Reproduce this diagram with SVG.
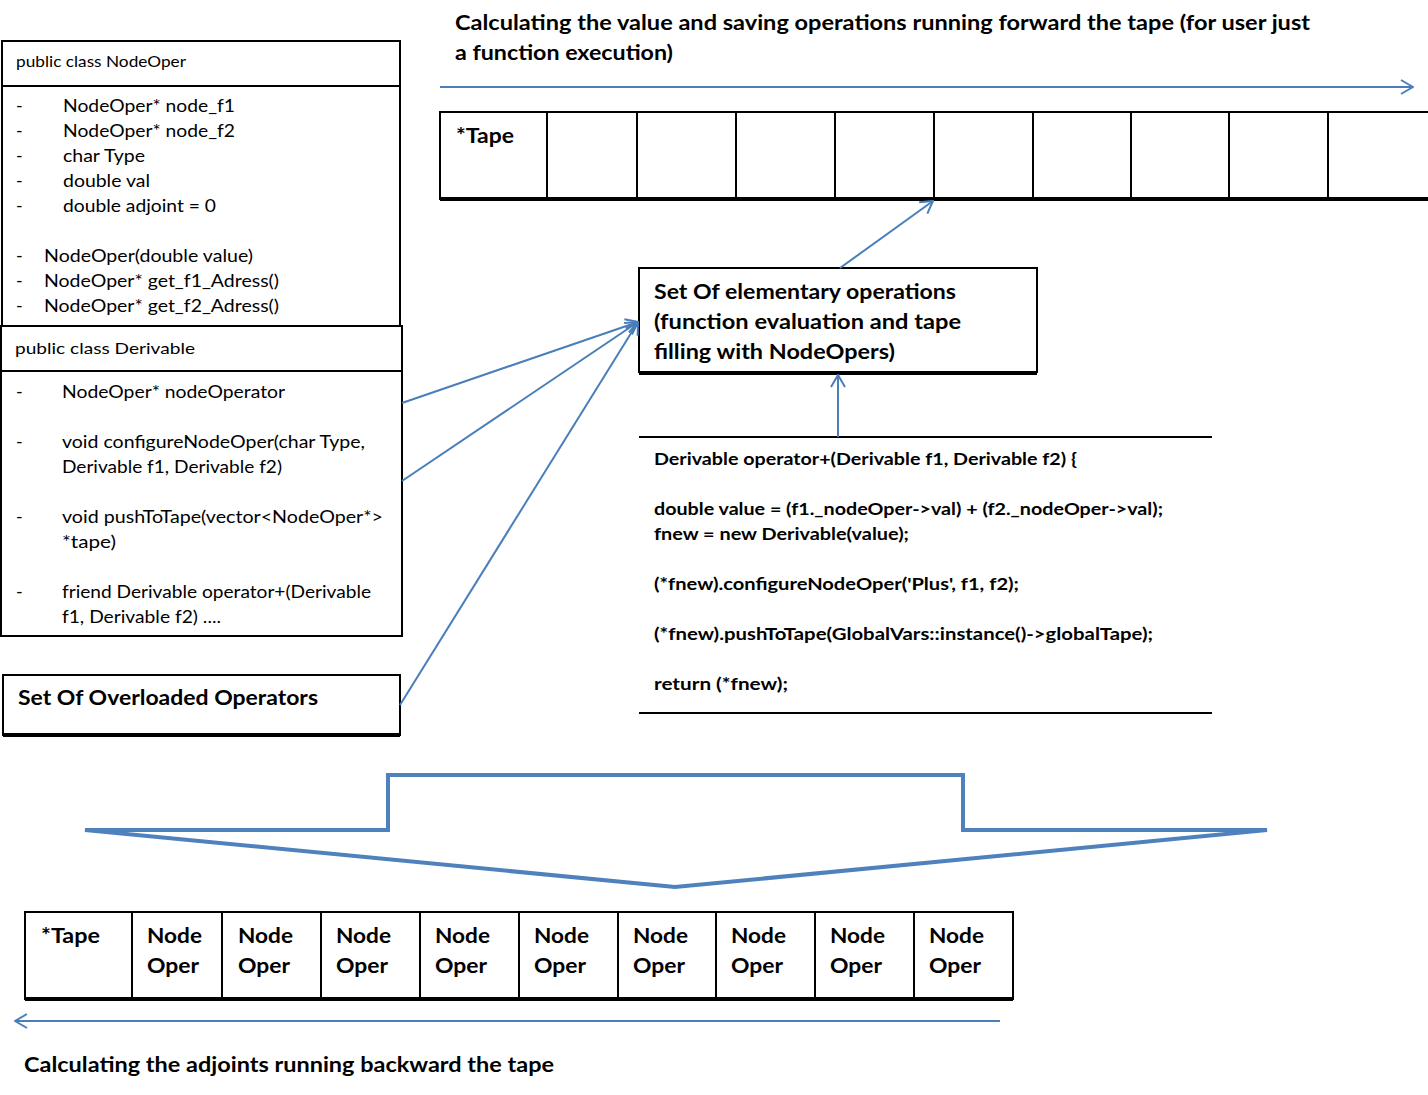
<svg xmlns="http://www.w3.org/2000/svg" width="1428" height="1095" viewBox="0 0 1428 1095">
<style>
  text { font-family: "Lato", "Open Sans", "Liberation Sans", sans-serif; fill: #000; }
  .b { font-weight: bold; }
  .hdr { font-size: 16px; }
  .body { font-size: 18px; }
  .big { font-size: 21px; font-weight: bold; }
  .code { font-size: 17.5px; font-weight: bold; }
  .box { fill: #fff; stroke: #000; stroke-width: 2; }
  .thick { stroke: #000; stroke-width: 4; }
  .thin { stroke: #000; stroke-width: 2; }
  .conn { stroke: #4A7EBB; stroke-width: 2; fill: none; }
  .big-arrow { stroke: #4F81BD; stroke-width: 4; fill: none; stroke-linejoin: miter; }
</style>
<defs>
  <marker id="open" viewBox="0 0 14 16" refX="13" refY="8" markerWidth="14" markerHeight="16" markerUnits="userSpaceOnUse" orient="auto">
    <path d="M1,1 L13,8 L1,15" fill="none" stroke="#4A7EBB" stroke-width="2"/>
  </marker>
</defs>
<rect width="1428" height="1095" fill="#fff"/>

<g id="title-forward">
  <text class="big" x="455" y="30" textLength="855" lengthAdjust="spacingAndGlyphs">Calculating  the value and saving operations running  forward the tape (for user just</text>
  <text class="big" x="455" y="60" textLength="218" lengthAdjust="spacingAndGlyphs">a function execution)</text>
</g>

<g id="tape-top">
  <rect x="440" y="112" width="990" height="87" fill="#fff" stroke="#000" stroke-width="2"/>
  <line x1="440" y1="199" x2="1428" y2="199" class="thick"/>
  <g class="thin">
    <line x1="547" y1="112" x2="547" y2="199"/>
    <line x1="637" y1="112" x2="637" y2="199"/>
    <line x1="736" y1="112" x2="736" y2="199"/>
    <line x1="835" y1="112" x2="835" y2="199"/>
    <line x1="934" y1="112" x2="934" y2="199"/>
    <line x1="1033" y1="112" x2="1033" y2="199"/>
    <line x1="1131" y1="112" x2="1131" y2="199"/>
    <line x1="1229" y1="112" x2="1229" y2="199"/>
    <line x1="1328" y1="112" x2="1328" y2="199"/>
  </g>
  <text class="big" x="456" y="143" textLength="58" lengthAdjust="spacingAndGlyphs">*Tape</text>
</g>

<g id="class-nodeoper">
  <rect x="2" y="41" width="398" height="285" class="box"/>
  <line x1="2" y1="86" x2="400" y2="86" class="thin"/>
  <text class="hdr" x="16" y="67" textLength="170" lengthAdjust="spacingAndGlyphs">public class NodeOper</text>
  <g class="body">
    <text class="body" x="16" y="112">-</text>
    <text class="body" x="63" y="112" textLength="172" lengthAdjust="spacingAndGlyphs">NodeOper* node_f1</text>
    <text class="body" x="16" y="137">-</text>
    <text class="body" x="63" y="137" textLength="172" lengthAdjust="spacingAndGlyphs">NodeOper* node_f2</text>
    <text class="body" x="16" y="162">-</text>
    <text class="body" x="63" y="162" textLength="82" lengthAdjust="spacingAndGlyphs">char Type</text>
    <text class="body" x="16" y="187">-</text>
    <text class="body" x="63" y="187" textLength="87" lengthAdjust="spacingAndGlyphs">double val</text>
    <text class="body" x="16" y="212">-</text>
    <text class="body" x="63" y="212" textLength="153" lengthAdjust="spacingAndGlyphs">double adjoint = 0</text>
    <text class="body" x="16" y="262">-</text>
    <text class="body" x="44" y="262" textLength="209" lengthAdjust="spacingAndGlyphs">NodeOper(double value)</text>
    <text class="body" x="16" y="287">-</text>
    <text class="body" x="44" y="287" textLength="235" lengthAdjust="spacingAndGlyphs">NodeOper* get_f1_Adress()</text>
    <text class="body" x="16" y="312">-</text>
    <text class="body" x="44" y="312" textLength="235" lengthAdjust="spacingAndGlyphs">NodeOper* get_f2_Adress()</text>
  </g>
</g>

<g id="class-derivable">
  <rect x="1" y="326" width="401" height="310" class="box"/>
  <line x1="1" y1="371" x2="402" y2="371" class="thin"/>
  <text class="hdr" x="15" y="354" textLength="180" lengthAdjust="spacingAndGlyphs">public class Derivable</text>
  <text class="body" x="16" y="398">-</text>
  <text class="body" x="62" y="398" textLength="223" lengthAdjust="spacingAndGlyphs">NodeOper* nodeOperator</text>
  <text class="body" x="16" y="448">-</text>
  <text class="body" x="62" y="448" textLength="303" lengthAdjust="spacingAndGlyphs">void configureNodeOper(char Type,</text>
  <text class="body" x="62" y="473" textLength="220" lengthAdjust="spacingAndGlyphs">Derivable f1, Derivable f2)</text>
  <text class="body" x="16" y="523">-</text>
  <text class="body" x="62" y="523" textLength="321" lengthAdjust="spacingAndGlyphs">void pushToTape(vector&lt;NodeOper*&gt;</text>
  <text class="body" x="62" y="548" textLength="54" lengthAdjust="spacingAndGlyphs">*tape)</text>
  <text class="body" x="16" y="598">-</text>
  <text class="body" x="62" y="598" textLength="309" lengthAdjust="spacingAndGlyphs">friend Derivable operator+(Derivable</text>
  <text class="body" x="62" y="623" textLength="159" lengthAdjust="spacingAndGlyphs">f1, Derivable f2) ....</text>
</g>

<g id="overloaded-operators">
  <rect x="3" y="675" width="397" height="60" class="box"/>
  <line x1="3" y1="735" x2="400" y2="735" class="thick"/>
  <text class="big" x="18" y="705" textLength="300" lengthAdjust="spacingAndGlyphs">Set Of Overloaded Operators</text>
</g>

<g id="elementary-operations">
  <rect x="639" y="268" width="398" height="104" class="box"/>
  <line x1="639" y1="373" x2="1037" y2="373" class="thick"/>
  <text class="big" x="654" y="299" textLength="302" lengthAdjust="spacingAndGlyphs">Set Of elementary operations</text>
  <text class="big" x="654" y="329" textLength="307" lengthAdjust="spacingAndGlyphs">(function  evaluation and tape</text>
  <text class="big" x="654" y="359" textLength="241" lengthAdjust="spacingAndGlyphs">filling with NodeOpers)</text>
</g>

<g id="code-block">
  <line x1="639" y1="437" x2="1212" y2="437" class="thin"/>
  <line x1="639" y1="713" x2="1212" y2="713" class="thin"/>
  <text class="code" x="654" y="465" textLength="423" lengthAdjust="spacingAndGlyphs">Derivable operator+(Derivable f1,  Derivable f2) {</text>
  <text class="code" x="654" y="515" textLength="509" lengthAdjust="spacingAndGlyphs">double value = (f1._nodeOper-&gt;val) + (f2._nodeOper-&gt;val);</text>
  <text class="code" x="654" y="540" textLength="255" lengthAdjust="spacingAndGlyphs">fnew = new Derivable(value);</text>
  <text class="code" x="654" y="590" textLength="365" lengthAdjust="spacingAndGlyphs">(*fnew).configureNodeOper('Plus', f1, f2);</text>
  <text class="code" x="654" y="640" textLength="499" lengthAdjust="spacingAndGlyphs">(*fnew).pushToTape(GlobalVars::instance()-&gt;globalTape);</text>
  <text class="code" x="654" y="690" textLength="134" lengthAdjust="spacingAndGlyphs">return (*fnew);</text>
</g>

<g id="big-arrow">
  <path class="big-arrow" d="M85,830 L388,830 L388,775 L963,775 L963,830 L1267,830 L675,887 Z"/>
</g>

<g id="tape-bottom">
  <rect x="25" y="912" width="988" height="87" fill="#fff" stroke="#000" stroke-width="2"/>
  <line x1="25" y1="999" x2="1013" y2="999" class="thick"/>
  <g class="thin">
    <line x1="132" y1="912" x2="132" y2="999"/>
    <line x1="222" y1="912" x2="222" y2="999"/>
    <line x1="321" y1="912" x2="321" y2="999"/>
    <line x1="420" y1="912" x2="420" y2="999"/>
    <line x1="519" y1="912" x2="519" y2="999"/>
    <line x1="618" y1="912" x2="618" y2="999"/>
    <line x1="716" y1="912" x2="716" y2="999"/>
    <line x1="815" y1="912" x2="815" y2="999"/>
    <line x1="914" y1="912" x2="914" y2="999"/>
  </g>
  <text class="big" x="41" y="943" textLength="59" lengthAdjust="spacingAndGlyphs">*Tape</text>
  <g class="big">
    <text class="big" x="147" y="943" textLength="55" lengthAdjust="spacingAndGlyphs">Node</text>
    <text class="big" x="147" y="973" textLength="52" lengthAdjust="spacingAndGlyphs">Oper</text>
    <text class="big" x="238" y="943" textLength="55" lengthAdjust="spacingAndGlyphs">Node</text>
    <text class="big" x="238" y="973" textLength="52" lengthAdjust="spacingAndGlyphs">Oper</text>
    <text class="big" x="336" y="943" textLength="55" lengthAdjust="spacingAndGlyphs">Node</text>
    <text class="big" x="336" y="973" textLength="52" lengthAdjust="spacingAndGlyphs">Oper</text>
    <text class="big" x="435" y="943" textLength="55" lengthAdjust="spacingAndGlyphs">Node</text>
    <text class="big" x="435" y="973" textLength="52" lengthAdjust="spacingAndGlyphs">Oper</text>
    <text class="big" x="534" y="943" textLength="55" lengthAdjust="spacingAndGlyphs">Node</text>
    <text class="big" x="534" y="973" textLength="52" lengthAdjust="spacingAndGlyphs">Oper</text>
    <text class="big" x="633" y="943" textLength="55" lengthAdjust="spacingAndGlyphs">Node</text>
    <text class="big" x="633" y="973" textLength="52" lengthAdjust="spacingAndGlyphs">Oper</text>
    <text class="big" x="731" y="943" textLength="55" lengthAdjust="spacingAndGlyphs">Node</text>
    <text class="big" x="731" y="973" textLength="52" lengthAdjust="spacingAndGlyphs">Oper</text>
    <text class="big" x="830" y="943" textLength="55" lengthAdjust="spacingAndGlyphs">Node</text>
    <text class="big" x="830" y="973" textLength="52" lengthAdjust="spacingAndGlyphs">Oper</text>
    <text class="big" x="929" y="943" textLength="55" lengthAdjust="spacingAndGlyphs">Node</text>
    <text class="big" x="929" y="973" textLength="52" lengthAdjust="spacingAndGlyphs">Oper</text>
  </g>
</g>

<g id="title-backward">
  <text class="big" x="24" y="1072" textLength="530" lengthAdjust="spacingAndGlyphs">Calculating  the adjoints running  backward the tape</text>
</g>

<g id="connectors">
  <line class="conn" x1="440" y1="87" x2="1413" y2="87" marker-end="url(#open)"/>
  <line class="conn" x1="1000" y1="1021" x2="15" y2="1021" marker-end="url(#open)"/>
  <line class="conn" x1="840" y1="268" x2="933" y2="201" marker-end="url(#open)"/>
  <line class="conn" x1="838" y1="437" x2="838" y2="375" marker-end="url(#open)"/>
  <line class="conn" x1="402" y1="403" x2="638" y2="322" marker-end="url(#open)"/>
  <line class="conn" x1="402" y1="481" x2="638" y2="322" marker-end="url(#open)"/>
  <line class="conn" x1="400" y1="705" x2="638" y2="322" marker-end="url(#open)"/>
</g>
</svg>
